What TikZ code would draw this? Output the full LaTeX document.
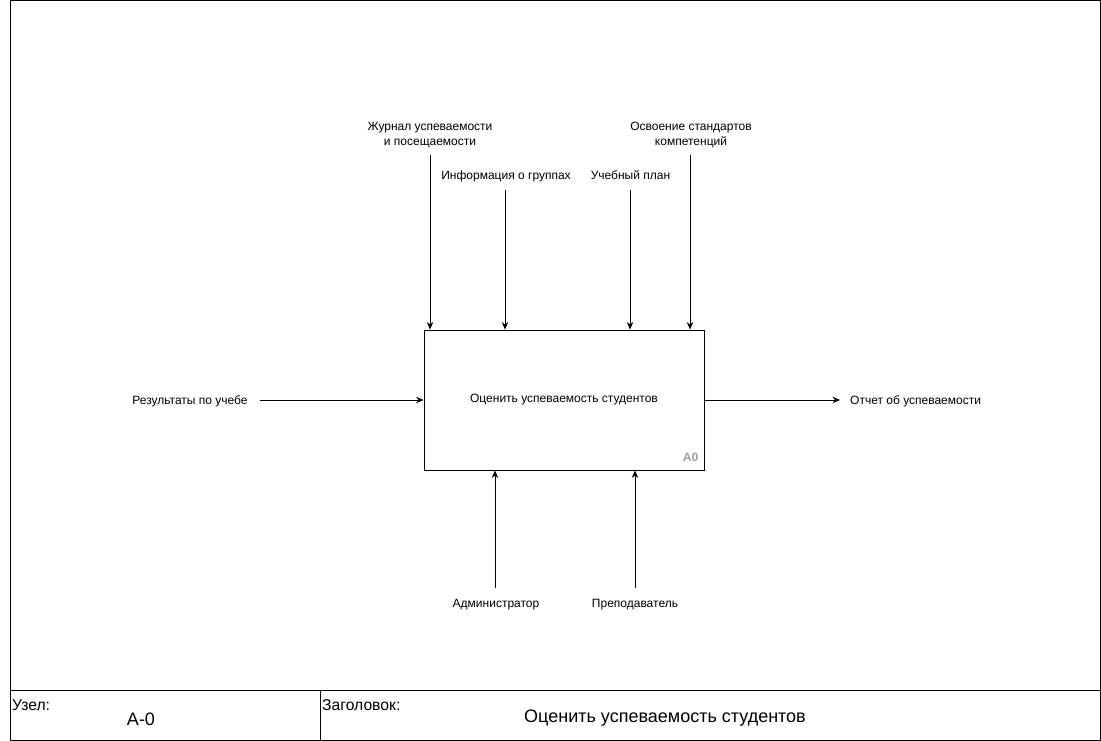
\documentclass[tikz,border=0pt]{standalone}
\usepackage{fontspec}
\setmainfont{Liberation Sans}
\usetikzlibrary{arrows.meta}
\begin{document}
\begin{tikzpicture}[x=1pt,y=-1pt,
  arr/.style={-{Stealth[length=7.5pt,width=6.5pt]}, line width=1pt},
  lbl/.style={inner sep=0pt, align=center, font=\fontsize{12}{15}\selectfont},
  foot/.style={inner sep=0pt, font=\fontsize{15.7}{17}\selectfont},
  big/.style={inner sep=0pt, font=\fontsize{18}{20}\selectfont}]
\useasboundingbox (0,0) rectangle (1101,741);
% outer frame
\draw[line width=0.9pt] (10.5,0.5) rectangle (1100,740);
\draw[line width=0.9pt] (10.5,690) -- (1100,690);
\draw[line width=0.9pt] (320,690) -- (320,740);
% main box
\node[draw, line width=0.9pt, minimum width=280pt, minimum height=140pt, inner sep=0pt,
      font=\fontsize{12}{14}\selectfont] (box) at (564,400) {Оценить успеваемость студентов};
\node[inner sep=0pt, anchor=south east, text=black!38, font=\bfseries\fontsize{12}{14}\selectfont] (a0) at ([xshift=-6pt,yshift=9pt]box.south east) {A0};
% top labels
\node[lbl] (l1) at (430,135.5) {Журнал успеваемости\\и посещаемости};
\node[lbl, anchor=base] (l2) at (506,179) {Информация о группах};
\node[lbl, anchor=base] (l3) at (630.5,179) {Учебный план};
\node[lbl] (l4) at (691,135.5) {Освоение стандартов\\компетенций};
\coordinate (s1) at (430,155);
\coordinate (s2) at (505,190);
\coordinate (s3) at (630,190);
\coordinate (s4) at (690,155);
\draw[arr] (s1) -- (s1 |- box.north);
\draw[arr] (s2) -- (s2 |- box.north);
\draw[arr] (s3) -- (s3 |- box.north);
\draw[arr] (s4) -- (s4 |- box.north);
% input
\node[lbl, anchor=base] (in) at (190,404) {Результаты по учебе};
\coordinate (sin) at (260,400);
\draw[arr] (sin) -- (box.west);
% output
\node[lbl, anchor=base west] (out) at (850,404) {Отчет об успеваемости};
\coordinate (eout) at (840,400);
\draw[arr] (box.east) -- (eout);
% mechanisms
\node[lbl, anchor=base] (m1) at (496,607) {Администратор};
\node[lbl, anchor=base] (m2) at (635,607) {Преподаватель};
\coordinate (b1) at (495,588);
\coordinate (b2) at (635,588);
\draw[arr] (b1) -- (b1 |- box.south);
\draw[arr] (b2) -- (b2 |- box.south);
% footer
\node[foot, anchor=base west] (uz) at (12,710) {Узел:};
\node[big, anchor=base] (node) at (141,725) {А-0};
\node[foot, anchor=base west] (zg) at (322,710) {Заголовок:};
\node[big, anchor=base] (title) at (665,722) {Оценить успеваемость студентов};
\end{tikzpicture}
\end{document}
